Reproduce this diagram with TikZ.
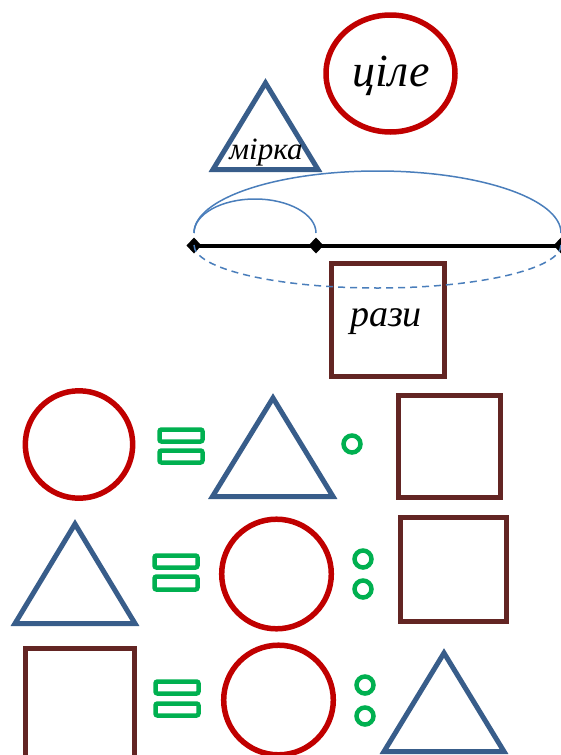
\documentclass[tikz,border=0pt]{standalone}
\usepackage{fontspec}
\setmainfont{Liberation Serif}
\definecolor{wholered}{HTML}{C00000}
\definecolor{unitblue}{HTML}{385D8A}
\definecolor{timesbrown}{HTML}{632523}
\definecolor{signgreen}{HTML}{00B050}
\definecolor{arcblue}{HTML}{4A7EBB}
\tikzset{
  wholeshape/.style={draw=wholered, line width=5.5pt},
  unitshape/.style={draw=unitblue, line width=5pt, line join=miter},
  timesshape/.style={draw=timesbrown, line width=5.5pt, line join=miter},
  eqbar/.style={draw=signgreen, line width=4.5pt, rounded corners=2pt},
  ratiodot/.style={draw=signgreen, line width=4.5pt},
  span/.style={draw=arcblue, line width=1.5pt},
  word/.style={inner sep=0pt, anchor=base}
}
% filled diamond marker centred on a named coordinate
\newcommand{\segmark}[1]{\fill (#1) ++(-7.5,0) -- ++(7.5,-8) -- ++(7.5,8) -- ++(-7.5,8) -- cycle;}
\begin{document}
\begin{tikzpicture}[x=1pt,y=-1pt]
\useasboundingbox (0,0) rectangle (561,755);

% --- legend: whole, unit and number of times ---
\draw[wholeshape] (390.5,73.5) ellipse[x radius=64.5, y radius=58.5];
\node[word, font=\fontsize{46}{46}\itshape] (whole) at (391,86) {ціле};

\draw[unitshape] (265.5,83) -- (318,169.5) -- (213,169.5) -- cycle;
\node[word, font=\fontsize{31}{31}\itshape] (unit) at (266,159) {мірка};

\draw[timesshape] (331.5,263.5) rectangle (444.5,376.5);
\node[word, font=\fontsize{38}{38}\itshape] (times) at (386,326) {рази};

% --- segment with its unit part ---
\coordinate (d0) at (194,245.5);
\coordinate (d1) at (316,245.5);
\coordinate (d2) at (561,245.5);
\draw[line width=4pt] (d0) -- (d2);
\segmark{d0}\segmark{d1}\segmark{d2}
\draw[span] (194,233) arc[start angle=180, end angle=360, x radius=61, y radius=34];
\draw[span] (194,233) arc[start angle=180, end angle=360, x radius=183.5, y radius=62];
\draw[span, dashed, dash pattern=on 7pt off 5pt] (194,245) arc[start angle=180, end angle=0, x radius=183.5, y radius=43];

% --- row 1: whole = unit * times ---
\draw[wholeshape] (79,444.5) circle[radius=53.7];
\draw[eqbar] (159.5,429.5) rectangle (202.5,441.5);
\draw[eqbar] (159.5,450.5) rectangle (202.5,462.5);
\draw[unitshape] (273,398) -- (333,496.5) -- (212.5,496.5) -- cycle;
\draw[ratiodot] (352,444) circle[radius=8.5];
\draw[timesshape] (398.5,395.5) rectangle (500.5,497.5);

% --- row 2: unit = whole : times ---
\draw[unitshape] (75,524) -- (135,623.5) -- (15,623.5) -- cycle;
\draw[eqbar] (154.5,555.5) rectangle (197.5,567.5);
\draw[eqbar] (154.5,576.5) rectangle (197.5,589.5);
\draw[wholeshape] (276.5,574) circle[radius=54.8];
\draw[ratiodot] (363,559) circle[radius=8.5];
\draw[ratiodot] (363,589) circle[radius=8.5];
\draw[timesshape] (400.5,517.5) rectangle (506.5,621.5);

% --- row 3: times = whole : unit ---
\draw[timesshape] (25.5,648.5) rectangle (134.5,765);
\draw[eqbar] (155.5,681.5) rectangle (198.5,693.5);
\draw[eqbar] (155.5,703.5) rectangle (198.5,715.5);
\draw[wholeshape] (278.5,700) circle[radius=54.8];
\draw[ratiodot] (365,685) circle[radius=8.5];
\draw[ratiodot] (365,716) circle[radius=8.5];
\draw[unitshape] (444,653) -- (504,751.5) -- (384,751.5) -- cycle;
\end{tikzpicture}
\end{document}
